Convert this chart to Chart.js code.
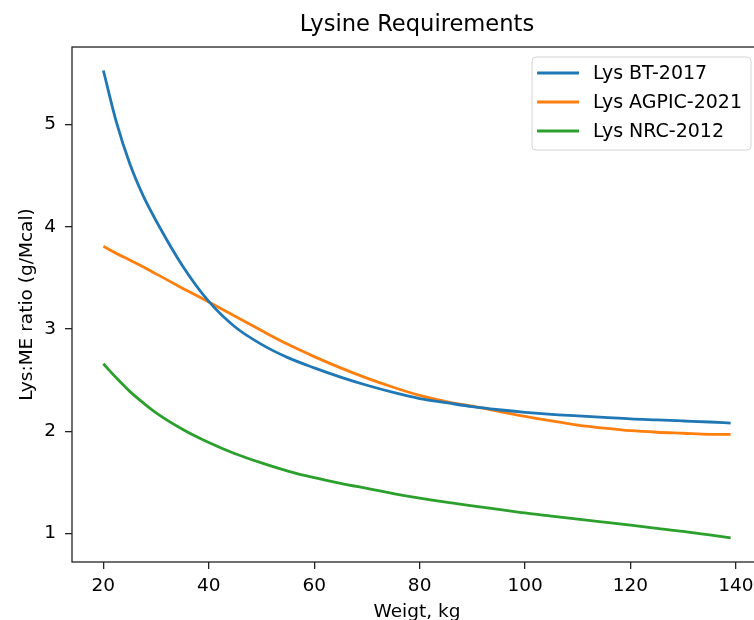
<!DOCTYPE html>
<html>
<head>
<meta charset="utf-8">
<title>Lysine Requirements</title>
<script src="https://cdn.jsdelivr.net/npm/chart.js@4.4.1/dist/chart.umd.min.js"></script>
<style>
  html, body { margin: 0; padding: 0; background: #fff; overflow: hidden; }
  #wrap { position: relative; width: 770px; height: 620px; }
</style>
</head>
<body>
<div id="wrap"><canvas id="myChart"></canvas></div>
<script>
// body weight, kg
const weights = [20, 22.5, 25, 27.5, 30, 35, 40, 45, 50, 55, 60, 65, 70, 75, 80, 85, 90, 95, 100, 105, 110, 115, 120, 125, 130, 135, 139];

// Lys:ME ratio, g/Mcal
const lysBT2017 = [5.53, 5.02, 4.62, 4.31, 4.06, 3.62, 3.27, 3.02, 2.85, 2.72, 2.62, 2.53, 2.45, 2.38, 2.32, 2.28, 2.24, 2.21, 2.185, 2.165, 2.15, 2.135, 2.12, 2.11, 2.10, 2.09, 2.08];
const lysAGPIC2021 = [3.81, 3.74, 3.675, 3.61, 3.54, 3.40, 3.265, 3.125, 2.985, 2.85, 2.73, 2.62, 2.52, 2.43, 2.35, 2.29, 2.245, 2.195, 2.145, 2.10, 2.06, 2.03, 2.005, 1.99, 1.98, 1.97, 1.97];
const lysNRC2012 = [2.66, 2.52, 2.39, 2.28, 2.18, 2.02, 1.89, 1.78, 1.69, 1.61, 1.545, 1.49, 1.44, 1.39, 1.345, 1.305, 1.27, 1.235, 1.20, 1.17, 1.14, 1.11, 1.08, 1.05, 1.02, 0.985, 0.955];

const seriesLabels = ["Lys BT-2017", "Lys AGPIC-2021", "Lys NRC-2012"];
const seriesColors = ["#1f77b4", "#ff7f0e", "#2ca02c"];
const xTicks = [20, 40, 60, 80, 100, 120, 140];
const yTicks = [1, 2, 3, 4, 5];

Chart.defaults.font.family = "'DejaVu Sans', sans-serif";
Chart.defaults.color = "#000";

const toPoints = (values) => values.map((v, i) => ({ x: weights[i], y: v }));

// box around the plot area, like matplotlib spines
const frame = {
  id: "frame",
  afterDatasetsDraw(chart) {
    const { ctx, chartArea: a } = chart;
    ctx.save();
    ctx.strokeStyle = "#222";
    ctx.lineWidth = 1.3;
    ctx.strokeRect(a.left, a.top, a.right - a.left, a.bottom - a.top);
    ctx.restore();
  },
};

// legend drawn inside the plot, upper right, with a rounded box
const legendBox = {
  id: "legendBox",
  afterDraw(chart) {
    const { ctx, chartArea } = chart;
    const sets = chart.data.datasets;
    ctx.save();
    ctx.font = "19px 'DejaVu Sans', sans-serif";
    const textW = Math.max(...sets.map((ds) => ctx.measureText(ds.label).width));
    const w = 61 + textW + 9;
    const h = 93;
    const x = chartArea.right - 11 - w;
    const y = chartArea.top + 10;
    ctx.beginPath();
    ctx.roundRect(x, y, w, h, 4);
    ctx.fillStyle = "rgba(255,255,255,0.8)";
    ctx.fill();
    ctx.strokeStyle = "#d4d4d4";
    ctx.lineWidth = 1;
    ctx.stroke();
    sets.forEach((ds, i) => {
      const cy = y + 16 + i * 29;
      ctx.strokeStyle = ds.borderColor;
      ctx.lineWidth = ds.borderWidth;
      ctx.beginPath();
      ctx.moveTo(x + 5, cy);
      ctx.lineTo(x + 47, cy);
      ctx.stroke();
      ctx.fillStyle = "#000";
      ctx.textBaseline = "middle";
      ctx.fillText(ds.label, x + 61, cy + 1);
    });
    ctx.restore();
  },
};

const ctx = document.getElementById("myChart").getContext("2d");
const chart = new Chart(ctx, {
  type: "line",
  data: {
    datasets: [lysBT2017, lysAGPIC2021, lysNRC2012].map((values, i) => ({
      label: seriesLabels[i],
      data: toPoints(values),
      borderColor: seriesColors[i],
      backgroundColor: seriesColors[i],
      borderWidth: 2.8,
      pointRadius: 0,
      cubicInterpolationMode: "monotone",
      fill: false,
    })),
  },
  options: {
    responsive: true,
    maintainAspectRatio: false,
    animation: false,
    layout: { padding: { left: 0, right: 8, top: 0, bottom: 0 } },
    plugins: {
      legend: { display: false },
      tooltip: { enabled: false },
      title: {
        display: true,
        fullSize: false,
        text: "Lysine Requirements",
        color: "#000",
        font: { size: 22.6, weight: "normal" },
        padding: { top: 12, bottom: 7.9 },
      },
    },
    scales: {
      x: {
        type: "linear",
        min: 14.05,
        max: 144.95,
        afterBuildTicks: (axis) => {
          axis.ticks = xTicks.map((v) => ({ value: v }));
        },
        afterFit: (scale) => {
          scale.height = 58;
        },
        ticks: { font: { size: 18.5 }, color: "#000", padding: 6, maxRotation: 0 },
        grid: { drawOnChartArea: false, drawTicks: true, tickLength: 7, color: "#222", lineWidth: 1.3 },
        border: { display: false },
        title: { display: true, text: "Weigt, kg", color: "#000", font: { size: 18.5 }, padding: { top: 0, bottom: -3 } },
      },
      y: {
        type: "linear",
        min: 0.72,
        max: 5.76,
        afterBuildTicks: (axis) => {
          axis.ticks = yTicks.map((v) => ({ value: v }));
        },
        afterFit: (scale) => {
          scale.width = 72;
        },
        ticks: { font: { size: 18.5 }, color: "#000", padding: 9 },
        grid: { drawOnChartArea: false, drawTicks: true, tickLength: 7, color: "#222", lineWidth: 1.3 },
        border: { display: false },
        title: {
          display: true,
          text: "Lys:ME ratio (g/Mcal)",
          color: "#000",
          font: { size: 18.5 },
          padding: { top: 16, bottom: 0 },
        },
      },
    },
  },
  plugins: [frame, legendBox],
});
</script>
</body>
</html>
